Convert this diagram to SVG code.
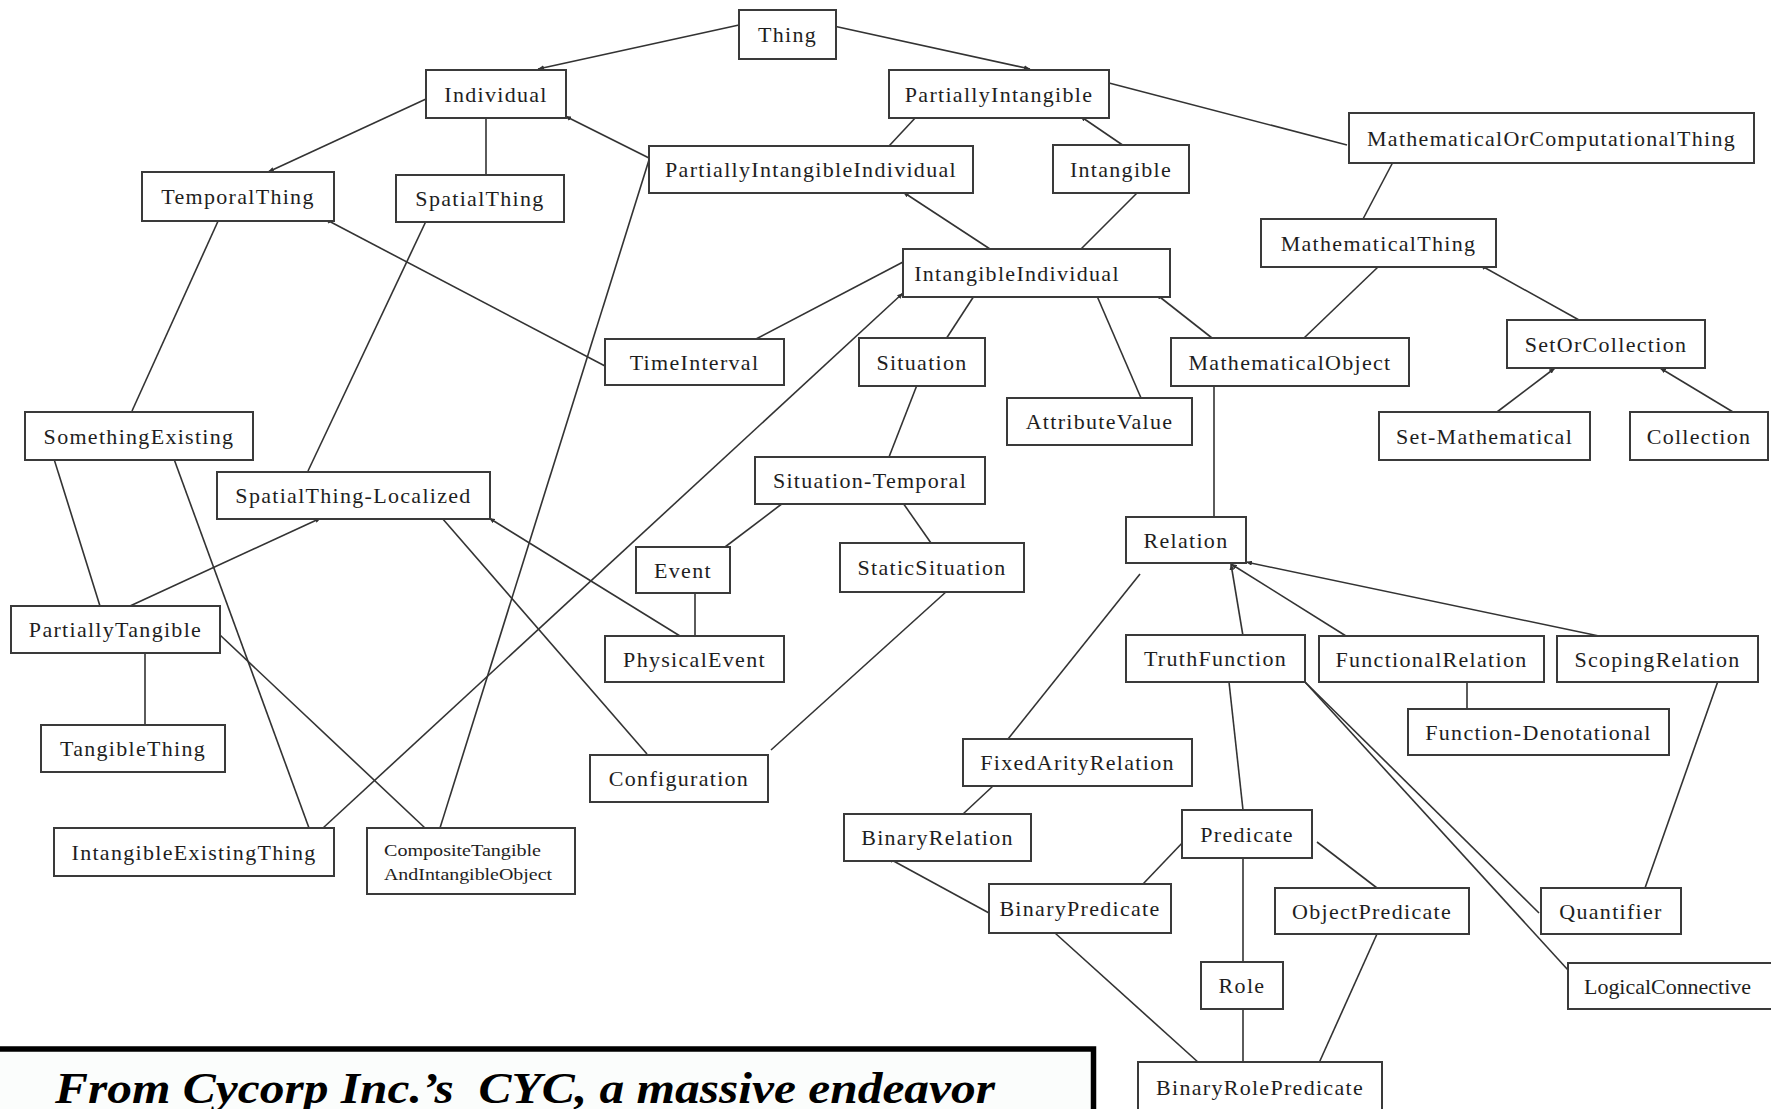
<svg xmlns="http://www.w3.org/2000/svg" width="1771" height="1109" viewBox="0 0 1771 1109">
<style>
.n rect{fill:#fff;stroke:#3a3a3a;stroke-width:2}
.n text{font-family:"Liberation Serif","Times New Roman",serif;font-size:22px;letter-spacing:1.3px;fill:#1e1e1e;text-anchor:middle}
.c line{stroke:#333;stroke-width:1.6;fill:none}
.c line.m{marker-end:url(#tip)}
.cap{font-family:"Liberation Serif","DejaVu Serif",serif;font-size:44px;font-weight:bold;font-style:italic;fill:#000}
</style>
<defs>
<marker id="tip" markerUnits="userSpaceOnUse" markerWidth="6" markerHeight="5" refX="6" refY="2.5" orient="auto">
<path d="M0,0 L6,2.5 L0,5 z" fill="#333"/>
</marker>
</defs>
<rect width="1771" height="1109" fill="#fff"/>
<g id="connectors" class="c">
<line class="m" x1="739" y1="25" x2="538" y2="69"/>
<line class="m" x1="829" y1="25" x2="1030" y2="69"/>
<line class="m" x1="426" y1="99" x2="268" y2="172"/>
<line class="m" x1="649" y1="158" x2="565" y2="116"/>
<line x1="486" y1="117" x2="486" y2="175"/>
<line class="m" x1="605" y1="366" x2="325" y2="219"/>
<line x1="219" y1="219" x2="132" y2="411"/>
<line x1="427" y1="219" x2="308" y2="471"/>
<line x1="649" y1="160" x2="440" y2="828"/>
<line x1="917" y1="116" x2="889" y2="146"/>
<line class="m" x1="1124" y1="146" x2="1080" y2="116"/>
<line x1="1347" y1="145" x2="1109" y2="83"/>
<line class="m" x1="990" y1="249" x2="903" y2="192"/>
<line x1="1139" y1="191" x2="1081" y2="249"/>
<line x1="903" y1="262" x2="756" y2="339"/>
<line class="m" x1="323" y1="828" x2="903" y2="293"/>
<line x1="974" y1="296" x2="946" y2="339"/>
<line x1="1097" y1="296" x2="1141" y2="398"/>
<line class="m" x1="1212" y1="338" x2="1156" y2="294"/>
<line x1="1393" y1="162" x2="1363" y2="219"/>
<line x1="1378" y1="267" x2="1304" y2="338"/>
<line class="m" x1="1579" y1="320" x2="1480" y2="265"/>
<line class="m" x1="1497" y1="412" x2="1555" y2="368"/>
<line class="m" x1="1733" y1="412" x2="1660" y2="368"/>
<line x1="54" y1="459" x2="100" y2="606"/>
<line x1="174" y1="459" x2="309" y2="828"/>
<line class="m" x1="130" y1="606" x2="321" y2="518"/>
<line x1="442" y1="518" x2="647" y2="754"/>
<line class="m" x1="680" y1="636" x2="489" y2="518"/>
<line x1="145" y1="653" x2="145" y2="725"/>
<line x1="220" y1="635" x2="425" y2="828"/>
<line x1="917" y1="385" x2="889" y2="457"/>
<line x1="783" y1="503" x2="725" y2="547"/>
<line x1="903" y1="503" x2="931" y2="543"/>
<line x1="695" y1="593" x2="695" y2="636"/>
<line x1="947" y1="591" x2="771" y2="750"/>
<line x1="1214" y1="386" x2="1214" y2="528"/>
<line x1="1140" y1="574" x2="1008" y2="739"/>
<line class="m" x1="1243" y1="636" x2="1231" y2="564"/>
<line class="m" x1="1346" y1="636" x2="1231" y2="564"/>
<line class="m" x1="1599" y1="636" x2="1246" y2="562"/>
<line x1="1467" y1="682" x2="1467" y2="709"/>
<line x1="1229" y1="682" x2="1243" y2="810"/>
<line x1="1539" y1="913" x2="1305" y2="682"/>
<line x1="1568" y1="970" x2="1305" y2="682"/>
<line x1="1718" y1="681" x2="1645" y2="888"/>
<line x1="993" y1="786" x2="963" y2="814"/>
<line class="m" x1="989" y1="913" x2="888" y2="858"/>
<line x1="1185" y1="840" x2="1143" y2="884"/>
<line x1="1243" y1="858" x2="1243" y2="962"/>
<line x1="1317" y1="842" x2="1377" y2="888"/>
<line x1="1243" y1="1009" x2="1243" y2="1063"/>
<line x1="1377" y1="934" x2="1319" y2="1063"/>
<line x1="1055" y1="933" x2="1199" y2="1063"/>
</g>
<g id="node-Thing" class="n"><rect x="739" y="10" width="97" height="49"/><text x="787.5" y="42">Thing</text></g>
<g id="node-Individual" class="n"><rect x="426" y="70" width="140" height="48"/><text x="496" y="101.5">Individual</text></g>
<g id="node-PartiallyIntangible" class="n"><rect x="889" y="70" width="220" height="48"/><text x="999" y="101.5">PartiallyIntangible</text></g>
<g id="node-PartiallyIntangibleIndividual" class="n"><rect x="649" y="146" width="324" height="47"/><text x="811" y="177">PartiallyIntangibleIndividual</text></g>
<g id="node-Intangible" class="n"><rect x="1053" y="145" width="136" height="48"/><text x="1121" y="176.5">Intangible</text></g>
<g id="node-MathematicalOrComputationalThing" class="n"><rect x="1349" y="113" width="405" height="50"/><text x="1551.5" y="145.5">MathematicalOrComputationalThing</text></g>
<g id="node-TemporalThing" class="n"><rect x="142" y="172" width="192" height="49"/><text x="238" y="204">TemporalThing</text></g>
<g id="node-SpatialThing" class="n"><rect x="396" y="175" width="168" height="47"/><text x="480" y="206">SpatialThing</text></g>
<g id="node-IntangibleIndividual" class="n"><rect x="903" y="249" width="267" height="48"/><text x="1017" y="280.5">IntangibleIndividual</text></g>
<g id="node-MathematicalThing" class="n"><rect x="1261" y="219" width="235" height="48"/><text x="1378.5" y="250.5">MathematicalThing</text></g>
<g id="node-TimeInterval" class="n"><rect x="605" y="339" width="179" height="46"/><text x="694.5" y="369.5">TimeInterval</text></g>
<g id="node-Situation" class="n"><rect x="859" y="338" width="126" height="48"/><text x="922" y="369.5">Situation</text></g>
<g id="node-MathematicalObject" class="n"><rect x="1171" y="338" width="238" height="48"/><text x="1290" y="369.5">MathematicalObject</text></g>
<g id="node-SetOrCollection" class="n"><rect x="1507" y="320" width="198" height="48"/><text x="1606" y="351.5">SetOrCollection</text></g>
<g id="node-AttributeValue" class="n"><rect x="1007" y="398" width="185" height="47"/><text x="1099.5" y="429">AttributeValue</text></g>
<g id="node-SomethingExisting" class="n"><rect x="25" y="412" width="228" height="48"/><text x="139" y="443.5">SomethingExisting</text></g>
<g id="node-Set-Mathematical" class="n"><rect x="1379" y="412" width="211" height="48"/><text x="1484.5" y="443.5">Set-Mathematical</text></g>
<g id="node-Collection" class="n"><rect x="1630" y="412" width="138" height="48"/><text x="1699" y="443.5">Collection</text></g>
<g id="node-SpatialThing-Localized" class="n"><rect x="217" y="472" width="273" height="47"/><text x="353.5" y="503">SpatialThing-Localized</text></g>
<g id="node-Situation-Temporal" class="n"><rect x="755" y="457" width="230" height="47"/><text x="870" y="488">Situation-Temporal</text></g>
<g id="node-Relation" class="n"><rect x="1126" y="517" width="120" height="46"/><text x="1186" y="547.5">Relation</text></g>
<g id="node-Event" class="n"><rect x="636" y="547" width="94" height="46"/><text x="683" y="577.5">Event</text></g>
<g id="node-StaticSituation" class="n"><rect x="840" y="543" width="184" height="49"/><text x="932" y="575">StaticSituation</text></g>
<g id="node-PartiallyTangible" class="n"><rect x="11" y="606" width="209" height="47"/><text x="115.5" y="637">PartiallyTangible</text></g>
<g id="node-PhysicalEvent" class="n"><rect x="605" y="636" width="179" height="46"/><text x="694.5" y="666.5">PhysicalEvent</text></g>
<g id="node-TruthFunction" class="n"><rect x="1126" y="635" width="179" height="47"/><text x="1215.5" y="666">TruthFunction</text></g>
<g id="node-FunctionalRelation" class="n"><rect x="1319" y="636" width="225" height="46"/><text x="1431.5" y="666.5">FunctionalRelation</text></g>
<g id="node-ScopingRelation" class="n"><rect x="1557" y="636" width="201" height="46"/><text x="1657.5" y="666.5">ScopingRelation</text></g>
<g id="node-Function-Denotational" class="n"><rect x="1408" y="709" width="261" height="46"/><text x="1538.5" y="739.5">Function-Denotational</text></g>
<g id="node-TangibleThing" class="n"><rect x="41" y="725" width="184" height="47"/><text x="133" y="756">TangibleThing</text></g>
<g id="node-FixedArityRelation" class="n"><rect x="963" y="739" width="229" height="47"/><text x="1077.5" y="770">FixedArityRelation</text></g>
<g id="node-Configuration" class="n"><rect x="590" y="755" width="178" height="47"/><text x="679" y="786">Configuration</text></g>
<g id="node-Predicate" class="n"><rect x="1182" y="810" width="130" height="48"/><text x="1247" y="841.5">Predicate</text></g>
<g id="node-BinaryRelation" class="n"><rect x="844" y="814" width="187" height="47"/><text x="937.5" y="845">BinaryRelation</text></g>
<g id="node-IntangibleExistingThing" class="n"><rect x="54" y="828" width="280" height="48"/><text x="194" y="859.5">IntangibleExistingThing</text></g>
<g id="node-CompositeTangibleAndIntangibleObject" class="n"><rect x="367" y="828" width="208" height="66"/><text x="384" y="856" style="font-size:16px;letter-spacing:0;text-anchor:start" textLength="157" lengthAdjust="spacingAndGlyphs">CompositeTangible</text><text x="384" y="880" style="font-size:16px;letter-spacing:0;text-anchor:start" textLength="168" lengthAdjust="spacingAndGlyphs">AndIntangibleObject</text></g>
<g id="node-BinaryPredicate" class="n"><rect x="989" y="884" width="182" height="49"/><text x="1080" y="916">BinaryPredicate</text></g>
<g id="node-ObjectPredicate" class="n"><rect x="1275" y="888" width="194" height="46"/><text x="1372" y="918.5">ObjectPredicate</text></g>
<g id="node-Quantifier" class="n"><rect x="1541" y="888" width="140" height="46"/><text x="1611" y="918.5">Quantifier</text></g>
<g id="node-Role" class="n"><rect x="1201" y="962" width="82" height="47"/><text x="1242" y="993">Role</text></g>
<g id="node-LogicalConnective" class="n"><rect x="1568" y="963" width="205" height="46"/><text x="1584" y="993.5" style="letter-spacing:0;text-anchor:start" textLength="167" lengthAdjust="spacingAndGlyphs">LogicalConnective</text></g>
<g id="node-BinaryRolePredicate" class="n"><rect x="1138" y="1062" width="244" height="52"/><text x="1260" y="1095">BinaryRolePredicate</text></g>
<g id="caption">
<rect x="-10" y="1049" width="1103.5" height="100" fill="#fbfdfc" stroke="#000" stroke-width="5.5"/>
<text class="cap" x="55" y="1103" textLength="940" lengthAdjust="spacingAndGlyphs" xml:space="preserve">From Cycorp Inc.’s  CYC, a massive endeavor</text>
</g>
</svg>
